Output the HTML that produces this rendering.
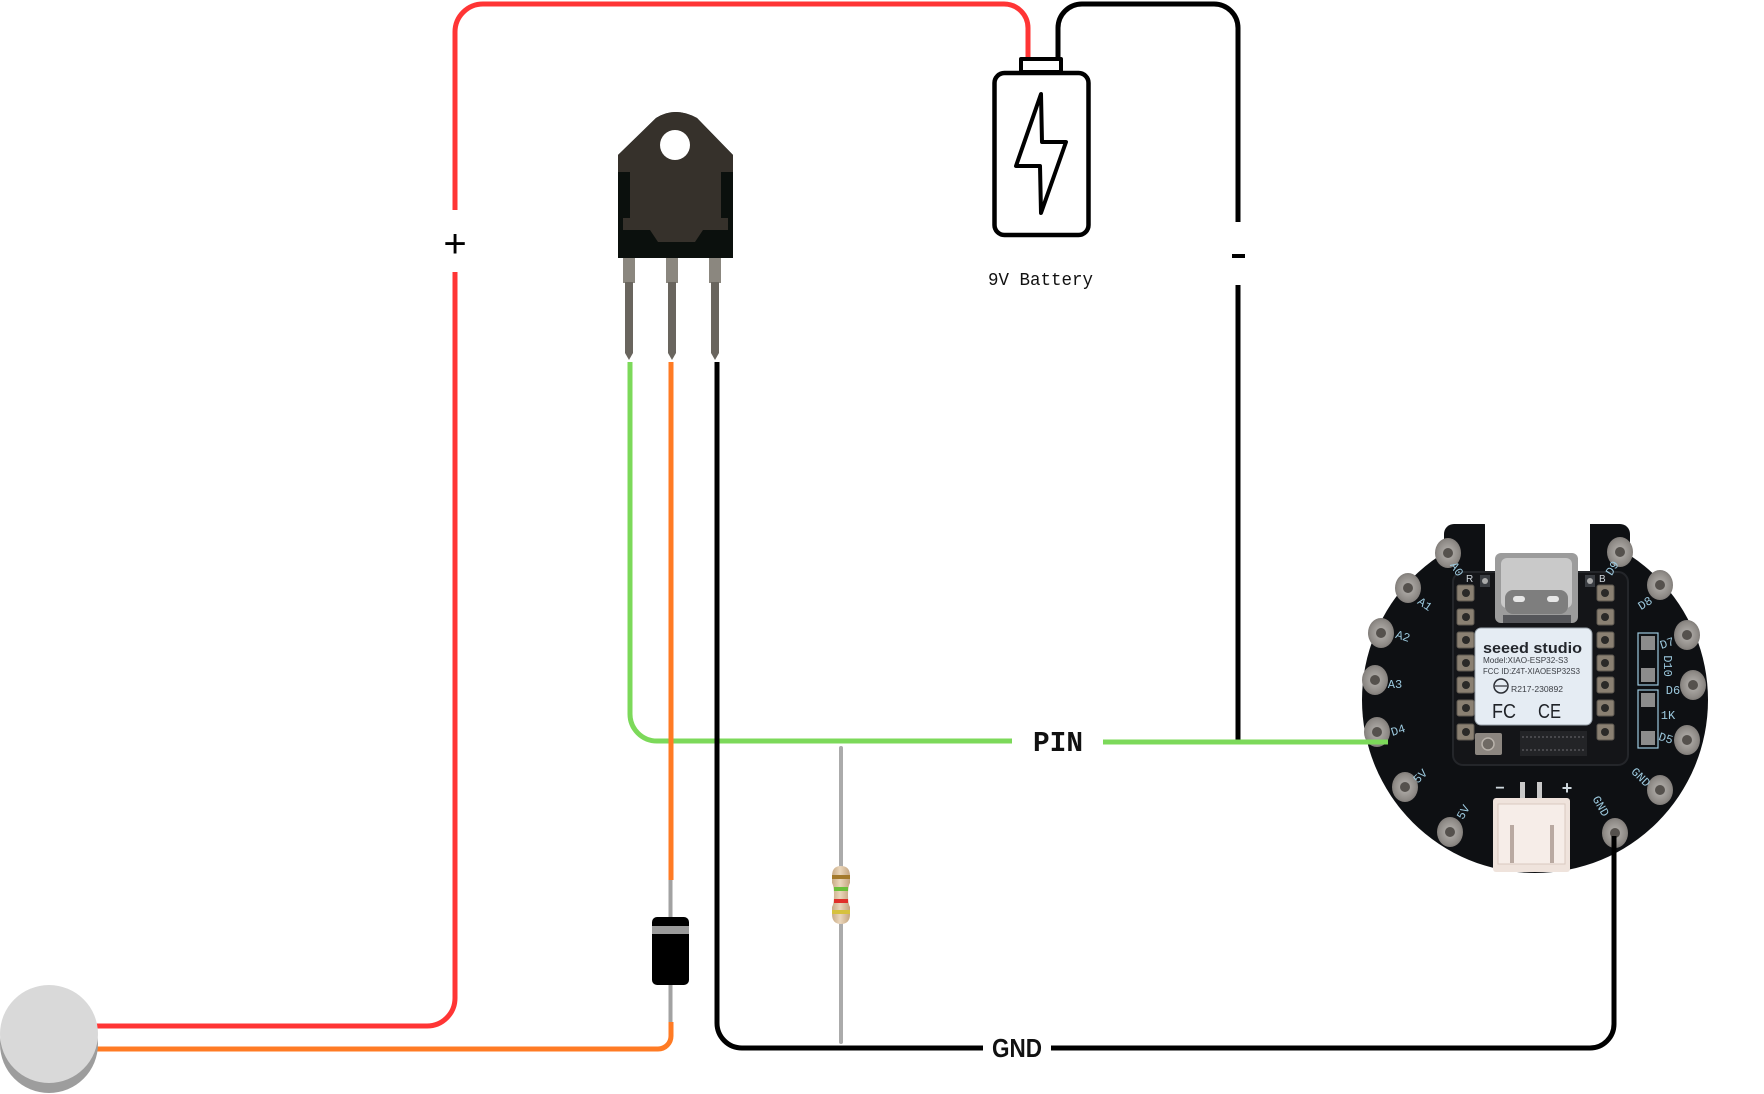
<!DOCTYPE html>
<html>
<head>
<meta charset="utf-8">
<style>
  html,body{margin:0;padding:0;background:#fff;}
  body{width:1764px;height:1094px;overflow:hidden;}
  svg{display:block;}
</style>
</head>
<body>
<svg width="1764" height="1094" viewBox="0 0 1764 1094" xmlns="http://www.w3.org/2000/svg">
  <defs>
    <linearGradient id="resg" x1="0" x2="1" y1="0" y2="0">
      <stop offset="0" stop-color="#c9ab86"/>
      <stop offset="0.45" stop-color="#ead6bb"/>
      <stop offset="1" stop-color="#c4a47f"/>
    </linearGradient>
    <radialGradient id="padg" cx="0.5" cy="0.5" r="0.6">
      <stop offset="0" stop-color="#b9b6b2"/>
      <stop offset="0.7" stop-color="#8e8a86"/>
      <stop offset="1" stop-color="#6f6b68"/>
    </radialGradient>
  </defs>

  <!-- ================= WIRES ================= -->
  <g fill="none" stroke-width="5" stroke-linecap="butt" stroke-linejoin="round">
    <path d="M455,210 V32 A28,28 0 0 1 483,4 H1004 A24,24 0 0 1 1028,28 V59" stroke="#ff3535"/>
    <path d="M455,272 V998 A28,28 0 0 1 427,1026 H90" stroke="#ff3535"/>
    <path d="M1058,59 V28 A24,24 0 0 1 1082,4 H1214 A24,24 0 0 1 1238,28 V222" stroke="#000"/>
    <path d="M1238,285 V742" stroke="#000"/>
    <path d="M630,362 V714 A27,27 0 0 0 657,741 H1012" stroke="#7cd95a"/>
    <path d="M1103,742 H1388" stroke="#7cd95a"/>
    <path d="M671,362 V880" stroke="#ff7b24"/>
    <path d="M671,1022 V1036 A13,13 0 0 1 658,1049 H90" stroke="#ff7b24"/>
    <path d="M717,362 V1023 A25,25 0 0 0 742,1048 H983" stroke="#000"/>
    <path d="M1051,1048 H1590 A24,24 0 0 0 1614,1024 V833" stroke="#000"/>
  </g>

  <!-- labels on wires -->
  <text x="455" y="257" font-family="'Liberation Sans', sans-serif" font-size="40" text-anchor="middle" fill="#000">+</text>
  <rect x="1232" y="254" width="13" height="4" fill="#000"/>
  <text x="1232" y="266" font-family="'Liberation Sans', sans-serif" font-weight="bold" font-size="36" textLength="13" lengthAdjust="spacingAndGlyphs" fill="none">-</text>
  <text x="1033" y="751" font-family="'Liberation Mono', monospace" font-weight="bold" font-size="29" textLength="50" lengthAdjust="spacingAndGlyphs" fill="#111">PIN</text>
  <text x="992" y="1057" font-family="'Liberation Sans', sans-serif" font-weight="bold" font-size="26" textLength="50" lengthAdjust="spacingAndGlyphs" fill="#111">GND</text>

  <!-- ================= BATTERY ================= -->
  <g fill="none" stroke="#000" stroke-linejoin="round">
    <rect x="1021" y="59" width="40" height="13" stroke-width="4"/>
    <rect x="994.5" y="73" width="94" height="162" rx="10" stroke-width="4.5" fill="#fff"/>
    <polygon points="1041,94 1016,166 1040,166 1041,213 1066,142 1042,142" stroke-width="4"/>
  </g>
  <text x="988" y="285" font-family="'Liberation Mono', monospace" font-size="18" textLength="105" lengthAdjust="spacingAndGlyphs" fill="#111">9V Battery</text>

  <!-- ================= TRANSISTOR ================= -->
  <g>
    <g>
      <rect x="623" y="256" width="12" height="27" fill="#8b877f"/>
      <polygon points="625,282 633,282 633,353 629,360 625,353" fill="#69655e"/>
      <rect x="666" y="256" width="12" height="27" fill="#8b877f"/>
      <polygon points="668,282 676,282 676,353 672,360 668,353" fill="#69655e"/>
      <rect x="709" y="256" width="12" height="27" fill="#8b877f"/>
      <polygon points="711,282 719,282 719,353 715,360 711,353" fill="#69655e"/>
    </g>
    <path d="M618,155 L656,118 Q675,106 697,118 L733,155 V258 H618 Z" fill="#0b100d"/>
    <path d="M618,155 L656,118 Q675,106 697,118 L733,155 V172 H721 V218 H728 V230 H703 L695,242 H658 L650,230 H623 V218 H630 V172 H618 Z" fill="#36312b"/>
    <circle cx="675" cy="145" r="15" fill="#fff"/>
  </g>

  <!-- ================= DIODE ================= -->
  <line x1="670.5" y1="880" x2="670.5" y2="1022" stroke="#a2a2a2" stroke-width="4"/>
  <rect x="652" y="917" width="37" height="68" rx="5" fill="#000"/>
  <rect x="652" y="926" width="37" height="8" fill="#9b9b9b"/>

  <!-- ================= RESISTOR ================= -->
  <line x1="841" y1="748" x2="841" y2="1042" stroke="#ababab" stroke-width="4" stroke-linecap="round"/>
  <path d="M832,876 Q832,866 841,866 Q850,866 850,876 V883 Q848,886 848,895 Q848,904 850,907 V914 Q850,924 841,924 Q832,924 832,914 V907 Q834,904 834,895 Q834,886 832,883 Z" fill="url(#resg)"/>
  <rect x="832" y="875" width="18" height="4" fill="#a47a2c"/>
  <rect x="834" y="887" width="14" height="4" fill="#6cbf3a"/>
  <rect x="834" y="899" width="14" height="4" fill="#e0302a"/>
  <rect x="832" y="910" width="18" height="4" fill="#d6c13e"/>

  <!-- ================= PIEZO DISC ================= -->
  <ellipse cx="49" cy="1044" rx="49" ry="49" fill="#9d9d9d"/>
  <ellipse cx="49" cy="1034" rx="49" ry="49" fill="#d9d9d9"/>

  <!-- ================= BOARD ================= -->
  <g>
    <circle cx="1535" cy="700" r="173" fill="#0e1013"/>
    <rect x="1444" y="524" width="50" height="70" rx="10" fill="#0e1013"/>
    <rect x="1580" y="524" width="50" height="70" rx="10" fill="#0e1013"/>
    <!-- notch -->
    <rect x="1485" y="515" width="105" height="57" fill="#fff"/>
    <!-- module -->
    <rect x="1453" y="572" width="175" height="193" rx="10" fill="#141518" stroke="#24262a" stroke-width="2"/>
    <!-- USB-C -->
    <rect x="1495" y="553" width="83" height="70" rx="6" fill="#9c9c9c"/>
    <rect x="1501" y="558" width="71" height="50" rx="6" fill="#c9c9c9"/>
    <rect x="1505" y="590" width="63" height="24" rx="8" fill="#7e7e7e"/>
    <rect x="1513" y="596" width="12" height="6" rx="3" fill="#e6e6e6"/>
    <rect x="1547" y="596" width="12" height="6" rx="3" fill="#e6e6e6"/>
    <rect x="1503" y="615" width="68" height="8" fill="#55565a"/>
    <!-- LEDs -->
    <rect x="1480" y="575" width="10" height="12" fill="#3a3d42"/>
    <circle cx="1485" cy="581" r="3" fill="#aaa"/>
    <rect x="1585" y="575" width="10" height="12" fill="#3a3d42"/>
    <circle cx="1590" cy="581" r="3" fill="#aaa"/>
    <text x="1466" y="582" font-family="'Liberation Sans', sans-serif" font-size="10" fill="#cfd6dc">R</text>
    <text x="1599" y="582" font-family="'Liberation Sans', sans-serif" font-size="10" fill="#cfd6dc">B</text>
    <!-- castellated pads -->
    <g fill="#8a8072" stroke="#5d574f" stroke-width="1">
      <rect x="1457" y="585" width="17" height="16" rx="2"/>
      <rect x="1457" y="609" width="17" height="16" rx="2"/>
      <rect x="1457" y="632" width="17" height="16" rx="2"/>
      <rect x="1457" y="655" width="17" height="16" rx="2"/>
      <rect x="1457" y="677" width="17" height="16" rx="2"/>
      <rect x="1457" y="700" width="17" height="16" rx="2"/>
      <rect x="1457" y="724" width="17" height="16" rx="2"/>
      <rect x="1597" y="585" width="17" height="16" rx="2"/>
      <rect x="1597" y="609" width="17" height="16" rx="2"/>
      <rect x="1597" y="632" width="17" height="16" rx="2"/>
      <rect x="1597" y="655" width="17" height="16" rx="2"/>
      <rect x="1597" y="677" width="17" height="16" rx="2"/>
      <rect x="1597" y="700" width="17" height="16" rx="2"/>
      <rect x="1597" y="724" width="17" height="16" rx="2"/>
    </g>
    <g fill="#2b2a28">
      <circle cx="1466" cy="593" r="4"/><circle cx="1466" cy="617" r="4"/><circle cx="1466" cy="640" r="4"/>
      <circle cx="1466" cy="663" r="4"/><circle cx="1466" cy="685" r="4"/><circle cx="1466" cy="708" r="4"/>
      <circle cx="1466" cy="732" r="4"/>
      <circle cx="1605" cy="593" r="4"/><circle cx="1605" cy="617" r="4"/><circle cx="1605" cy="640" r="4"/>
      <circle cx="1605" cy="663" r="4"/><circle cx="1605" cy="685" r="4"/><circle cx="1605" cy="708" r="4"/>
      <circle cx="1605" cy="732" r="4"/>
    </g>
    <!-- shield -->
    <rect x="1475" y="628" width="117" height="97" rx="6" fill="#e5ecf3" stroke="#9aa3ab" stroke-width="1"/>
    <text x="1483" y="653" font-family="'Liberation Sans', sans-serif" font-size="15" font-weight="600" textLength="99" lengthAdjust="spacingAndGlyphs" fill="#23262c">seeed studio</text>
    <text x="1483" y="663" font-family="'Liberation Sans', sans-serif" font-size="8" textLength="85" lengthAdjust="spacingAndGlyphs" fill="#3a3d43">Model:XIAO-ESP32-S3</text>
    <text x="1483" y="674" font-family="'Liberation Sans', sans-serif" font-size="8" textLength="97" lengthAdjust="spacingAndGlyphs" fill="#3a3d43">FCC ID:Z4T-XIAOESP32S3</text>
    <circle cx="1501" cy="686" r="7" fill="none" stroke="#2a2d33" stroke-width="1.5"/>
    <line x1="1495" y1="686" x2="1507" y2="686" stroke="#2a2d33" stroke-width="1.2"/>
    <text x="1511" y="692" font-family="'Liberation Sans', sans-serif" font-size="8" textLength="52" lengthAdjust="spacingAndGlyphs" fill="#3a3d43">R217-230892</text>
    <text x="1492" y="718" font-family="'Liberation Sans', sans-serif" font-size="20" textLength="24" lengthAdjust="spacingAndGlyphs" fill="#1f2227">FC</text>
    <text x="1538" y="718" font-family="'Liberation Sans', sans-serif" font-size="20" textLength="23" lengthAdjust="spacingAndGlyphs" fill="#1f2227">CE</text>
    <!-- U.FL + FPC -->
    <rect x="1475" y="733" width="27" height="22" rx="2" fill="#8c8680"/>
    <circle cx="1488" cy="744" r="6" fill="#6f6a64" stroke="#b8b2aa" stroke-width="1.5"/>
    <rect x="1520" y="731" width="67" height="25" fill="#232427"/>
    <g stroke="#6c6d70" stroke-width="1">
      <line x1="1522" y1="737" x2="1585" y2="737" stroke-dasharray="2,2"/>
      <line x1="1522" y1="750" x2="1585" y2="750" stroke-dasharray="2,2"/>
    </g>
    <!-- right SMD squares -->
    <g fill="#8c8c8c">
      <rect x="1641" y="636" width="14" height="14"/>
      <rect x="1641" y="668" width="14" height="14"/>
      <rect x="1641" y="693" width="14" height="14"/>
      <rect x="1641" y="731" width="14" height="14"/>
    </g>
    <g stroke="#9cc9de" stroke-width="1.2" fill="none">
      <rect x="1638" y="633" width="20" height="52"/>
      <rect x="1638" y="690" width="20" height="58"/>
    </g>
    <!-- JST connector -->
    <rect x="1520" y="782" width="5" height="30" fill="#c9c9c9"/>
    <rect x="1537" y="782" width="5" height="30" fill="#c9c9c9"/>
    <rect x="1493" y="798" width="77" height="74" rx="3" fill="#efe3dc"/>
    <rect x="1498" y="804" width="67" height="60" fill="#f6ede8" stroke="#d9c9c1" stroke-width="1"/>
    <rect x="1510" y="825" width="4" height="38" fill="#b9a9a1"/>
    <rect x="1550" y="825" width="4" height="38" fill="#b9a9a1"/>
    <text x="1500" y="793" font-family="'Liberation Sans', sans-serif" font-weight="bold" font-size="16" text-anchor="middle" fill="#cfd8de">−</text>
    <text x="1567" y="794" font-family="'Liberation Sans', sans-serif" font-weight="bold" font-size="18" text-anchor="middle" fill="#cfd8de">+</text>
    <!-- perimeter pads -->
    <g>
      <ellipse cx="1448" cy="553" rx="13" ry="15" fill="url(#padg)"/>
      <ellipse cx="1408" cy="588" rx="13" ry="15" fill="url(#padg)"/>
      <ellipse cx="1381" cy="633" rx="13" ry="15" fill="url(#padg)"/>
      <ellipse cx="1375" cy="680" rx="13" ry="15" fill="url(#padg)"/>
      <ellipse cx="1377" cy="732" rx="13" ry="15" fill="url(#padg)"/>
      <ellipse cx="1405" cy="787" rx="13" ry="15" fill="url(#padg)"/>
      <ellipse cx="1450" cy="832" rx="13" ry="15" fill="url(#padg)"/>
      <ellipse cx="1620" cy="552" rx="13" ry="15" fill="url(#padg)"/>
      <ellipse cx="1660" cy="585" rx="13" ry="15" fill="url(#padg)"/>
      <ellipse cx="1687" cy="635" rx="13" ry="15" fill="url(#padg)"/>
      <ellipse cx="1693" cy="685" rx="13" ry="15" fill="url(#padg)"/>
      <ellipse cx="1687" cy="740" rx="13" ry="15" fill="url(#padg)"/>
      <ellipse cx="1660" cy="790" rx="13" ry="15" fill="url(#padg)"/>
      <ellipse cx="1615" cy="833" rx="13" ry="15" fill="url(#padg)"/>
    </g>
    <g fill="#55514d">
      <circle cx="1448" cy="553" r="5"/><circle cx="1408" cy="588" r="5"/><circle cx="1381" cy="633" r="5"/>
      <circle cx="1375" cy="680" r="5"/><circle cx="1377" cy="732" r="5"/><circle cx="1405" cy="787" r="5"/>
      <circle cx="1450" cy="832" r="5"/><circle cx="1620" cy="552" r="5"/><circle cx="1660" cy="585" r="5"/>
      <circle cx="1687" cy="635" r="5"/><circle cx="1693" cy="685" r="5"/><circle cx="1687" cy="740" r="5"/>
      <circle cx="1660" cy="790" r="5"/><circle cx="1615" cy="833" r="5"/>
    </g>
    <!-- pad labels -->
    <g font-family="'Liberation Mono', monospace" font-size="12" fill="#9cc9de" text-anchor="middle">
      <text transform="translate(1457,569) rotate(58)" dy="4">A0</text>
      <text transform="translate(1425,604) rotate(35)" dy="4">A1</text>
      <text transform="translate(1403,636) rotate(18)" dy="4">A2</text>
      <text transform="translate(1395,684) rotate(0)" dy="4">A3</text>
      <text transform="translate(1398,730) rotate(-18)" dy="4">D4</text>
      <text transform="translate(1420,776) rotate(-45)" dy="4">5V</text>
      <text transform="translate(1463,812) rotate(-60)" dy="4">5V</text>
      <text transform="translate(1612,568) rotate(-58)" dy="4">D9</text>
      <text transform="translate(1645,603) rotate(-32)" dy="4">D8</text>
      <text transform="translate(1667,643) rotate(-18)" dy="4">D7</text>
      <text transform="translate(1668,666) rotate(90)" dy="4">D10</text>
      <text transform="translate(1673,690) rotate(0)" dy="4">D6</text>
      <text transform="translate(1668,715) rotate(0)" dy="4">1K</text>
      <text transform="translate(1666,738) rotate(18)" dy="4">D5</text>
      <text transform="translate(1641,777) rotate(45)" dy="4">GND</text>
      <text transform="translate(1601,806) rotate(60)" dy="4">GND</text>
    </g>
  </g>

  <path d="M1360,742 H1388" stroke="#7cd95a" stroke-width="5" fill="none"/>
  <path d="M1614,880 V836" stroke="#000" stroke-width="5" fill="none"/>
</svg>
</body>
</html>
